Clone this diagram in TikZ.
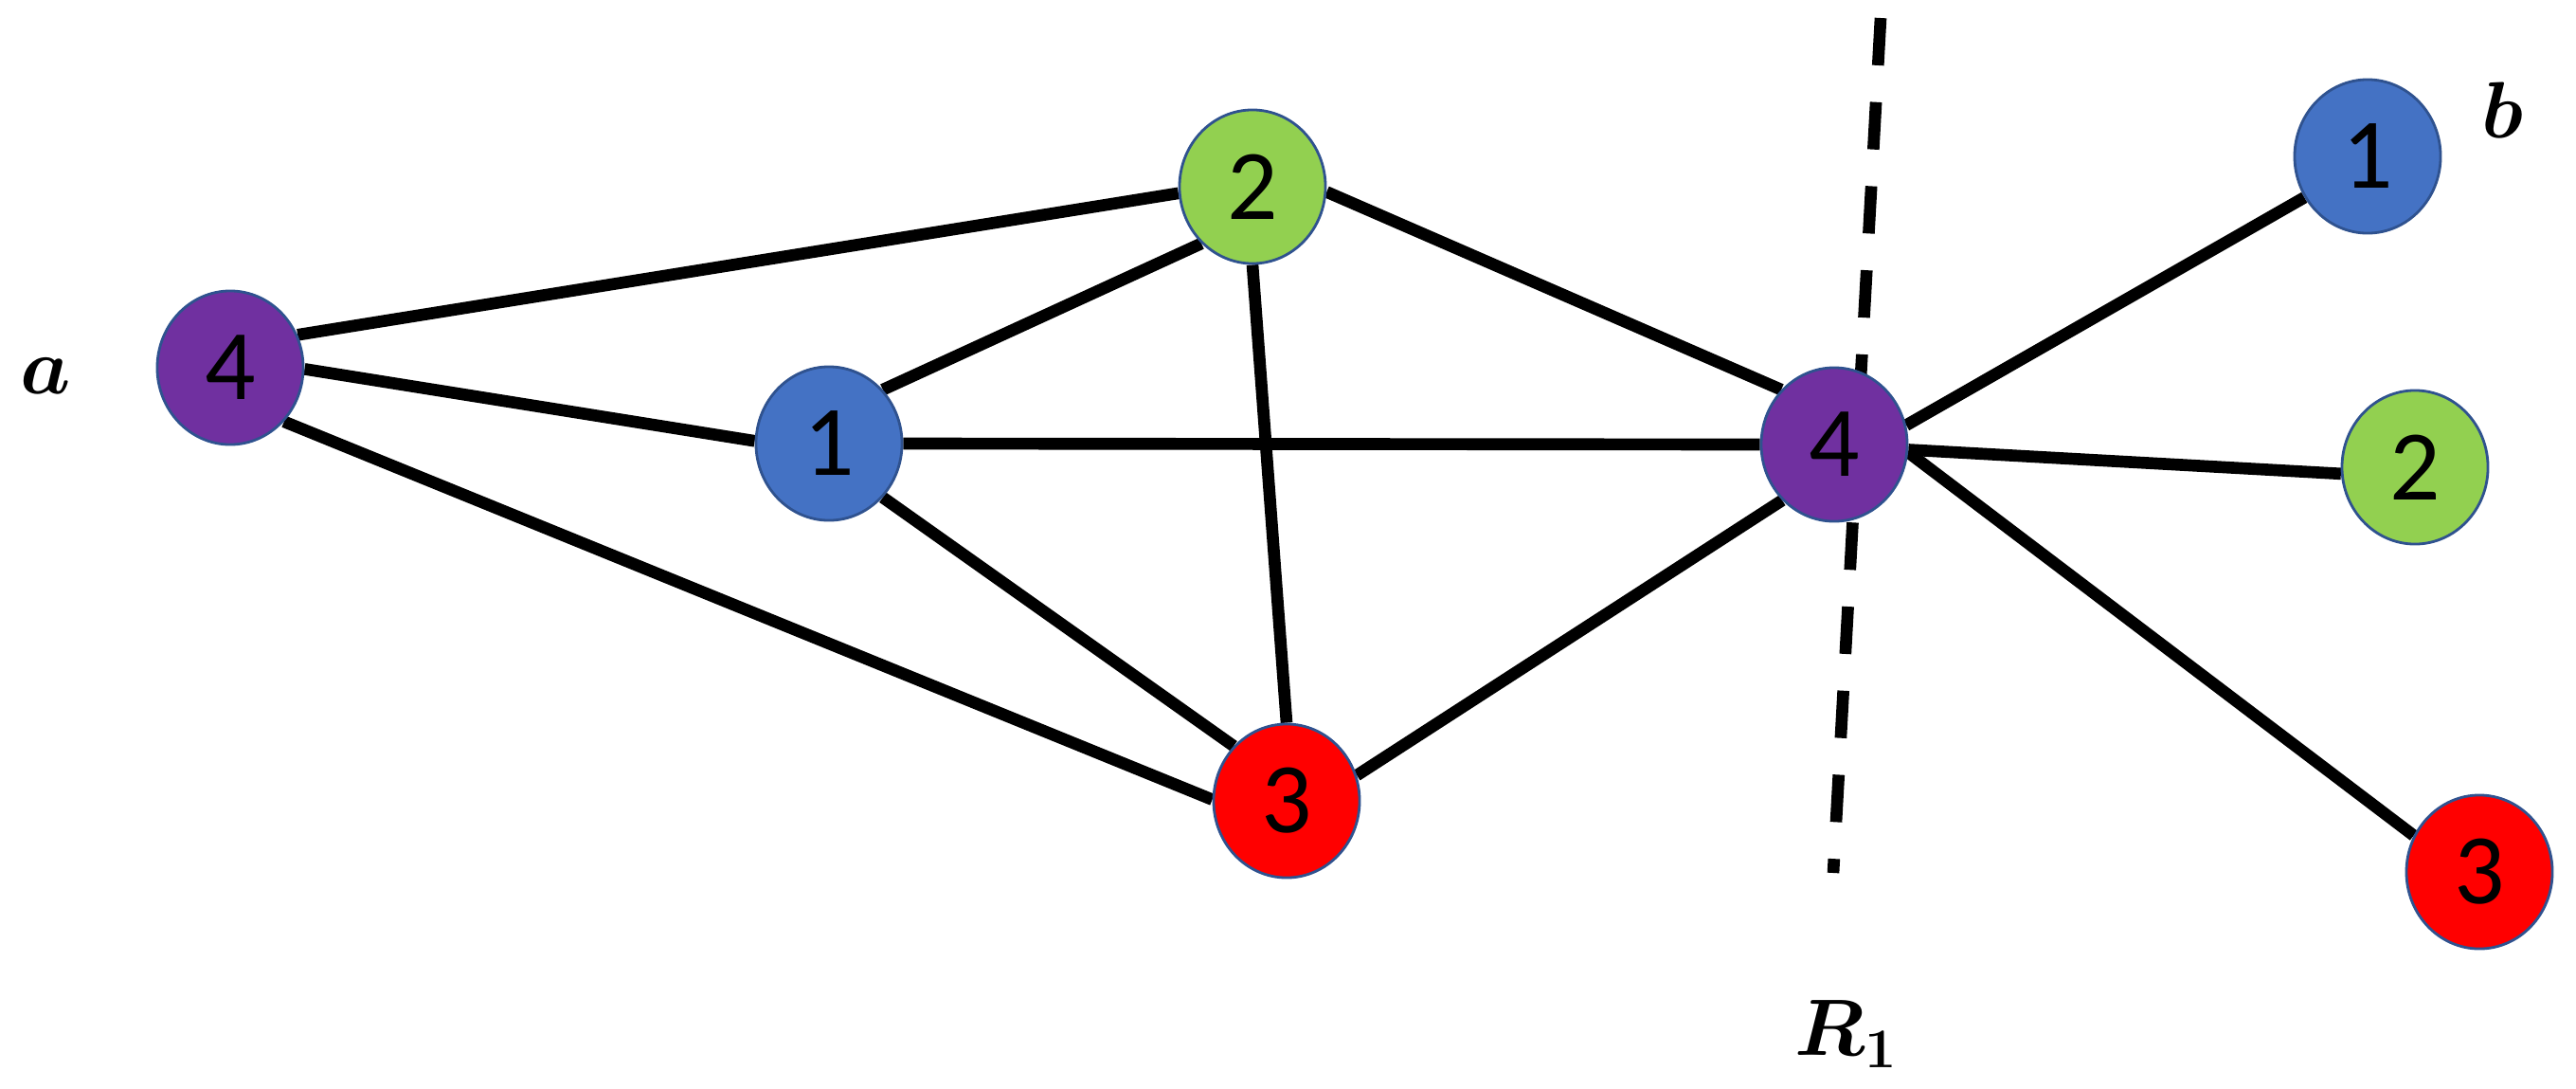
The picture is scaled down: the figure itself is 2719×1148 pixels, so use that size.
\RequirePackage{fix-cm}
\documentclass[tikz,border=0pt]{standalone}
\usepackage{fontspec}
\usepackage{amsmath,bm}
\newfontfamily\digitfont{Carlito}
\usetikzlibrary{shapes.geometric,backgrounds}
\definecolor{vpurple}{HTML}{7030A0}
\definecolor{vblue}{HTML}{4472C4}
\definecolor{vgreen}{HTML}{92D050}
\definecolor{vred}{HTML}{FF0000}
\definecolor{vline}{HTML}{2F528F}
\begin{document}
\begin{tikzpicture}[x=0.01cm,y=-0.01cm,
  vtx/.style={shape=ellipse, minimum width=1.54cm, minimum height=1.62cm,
    inner sep=0pt, draw=vline, line width=0.8pt,
    font=\digitfont\fontsize{30}{34}\selectfont},
  conn/.style={line width=3.6pt, black},
  cutline/.style={line width=3.6pt, black, dash pattern=on 0.50cm off 0.388cm},
  lbl/.style={inner sep=0pt, font=\fontsize{24}{29}\selectfont}]
\useasboundingbox (0,0) rectangle (2719,1148);
% vertices
\node[vtx, fill=vpurple] (a4) at (243,388) {4};
\node[vtx, fill=vblue]   (n1) at (875,468) {1};
\node[vtx, fill=vgreen]  (g2) at (1322,197) {2};
\node[vtx, fill=vred]    (r3) at (1358,845) {3};
\node[vtx, fill=vpurple] (c4) at (1936,469) {4};
\node[vtx, fill=vblue]   (b1) at (2499,165) {1};
\node[vtx, fill=vgreen]  (b2) at (2549,493) {2};
\node[vtx, fill=vred]    (b3) at (2617,920) {3};
% labels
\node[lbl] (la) at (48,397) {$\bm{a}$};
\node[lbl] (lb) at (2641,116) {$\bm{b}$};
\node[lbl] (lr) at (1949,1091) {$\bm{R_1}$};
% cut line ends
\coordinate (cuttop) at (1985,19);
\coordinate (cutbot) at (1935,921);
\begin{scope}[on background layer]
  \draw[cutline] (cuttop) -- (cutbot);
  \draw[conn] (a4.26) -- (g2.185);
  \draw[conn] (a4.-1) -- (n1.178);
  \draw[conn] (a4.-45) -- (r3.179);
  \draw[conn] (n1.45) -- (g2.228);
  \draw[conn] (n1.east) -- (c4.west);
  \draw[conn] (n1.-45) -- (r3.134);
  \draw[conn] (g2.south) -- (r3.north);
  \draw[conn] (g2.-4) -- (c4.134);
  \draw[conn] (r3.20) -- (c4.227);
  \draw[conn] (c4.15) -- (b1.213);
  \draw[conn] (c4.-4) -- (b2.185);
  \draw[conn] (c4.-6) -- (b3.151);
\end{scope}
\end{tikzpicture}
\end{document}
